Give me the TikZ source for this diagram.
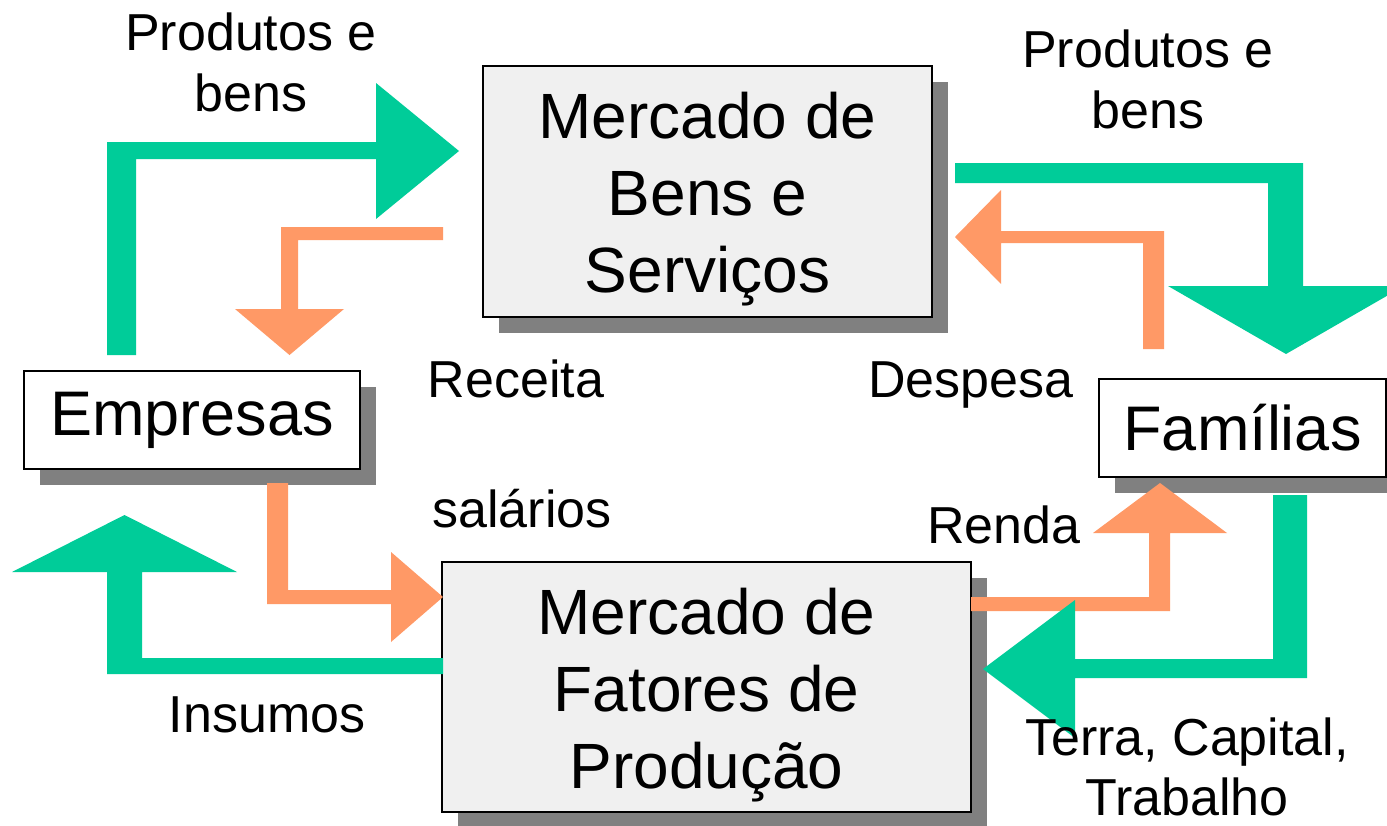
\documentclass[tikz,border=0pt]{standalone}
\usepackage{fontspec}
\setmainfont{Liberation Sans}
\usetikzlibrary{shadows}
\definecolor{flowgreen}{RGB}{0,204,153}
\definecolor{floworange}{RGB}{255,153,102}
\definecolor{shadowgray}{RGB}{128,128,128}
\definecolor{boxfill}{RGB}{240,240,240}
\newcommand{\toppad}{\rule{0pt}{31pt}}
\tikzset{
  shadowed/.style={general shadow={fill=shadowgray, shadow xshift=8pt, shadow yshift=-8pt}},
  bigbox/.style={draw=black, line width=1pt, fill=boxfill, shadowed, align=center,
    font=\fontsize{32}{38.5}\selectfont, inner sep=0pt},
  smallbox/.style={draw=black, line width=1pt, fill=white, shadowed,
    font=\fontsize{31.5}{38}\selectfont, inner sep=0pt},
  lbl/.style={anchor=base, inner sep=0pt, font=\fontsize{26}{30}\selectfont},
  greenarrow/.style={fill=flowgreen},
  orangearrow/.style={fill=floworange}
}
\begin{document}
\begin{tikzpicture}[x=0.5pt,y=-0.5pt]
\useasboundingbox (0,0) rectangle (1387,825);
\fill[white] (0,0) rectangle (1387,825);

% boxes
\node[bigbox, minimum width=224.5pt, minimum height=125.5pt] (mbs) at (707.5,191.5)
  {\toppad Mercado de\\Bens e\\Serviços};
\node[bigbox, minimum width=264.5pt, minimum height=125pt] (mfp) at (706.5,687)
  {\toppad Mercado de\\Fatores de\\Produção};
\node[smallbox, minimum width=168pt, minimum height=49pt] (emp) at (192,420) {Empresas};
\node[smallbox, minimum width=143.5pt, minimum height=49pt] (fam) at (1242.5,428) {Famílias};

% arrows
\fill[greenarrow] (107,355) -- (107,142) -- (376,142) -- (376,83) -- (459,151) -- (376,219)
  -- (376,159) -- (136,159) -- (136,355) -- cycle;
\fill[orangearrow] (443,227) -- (281,227) -- (281,309) -- (235,309) -- (289.5,355) -- (344,309)
  -- (298,309) -- (298,240) -- (443,240) -- cycle;
\fill[greenarrow] (955,163) -- (1303,163) -- (1303,286) -- (1404,286) -- (1286,354) -- (1168,286)
  -- (1268,286) -- (1268,183) -- (955,183) -- cycle;
\fill[orangearrow] (1164,349) -- (1164,231) -- (1001,231) -- (1001,190) -- (955,237) -- (1001,284)
  -- (1001,243) -- (1143,243) -- (1143,349) -- cycle;
\fill[greenarrow] (443,658) -- (142,658) -- (142,572) -- (237,572) -- (124.5,515) -- (12,572)
  -- (107,572) -- (107,674) -- (443,674) -- cycle;
\fill[orangearrow] (267,483) -- (288,483) -- (288,590) -- (391,590) -- (391,552) -- (443,597)
  -- (391,642) -- (391,604) -- (267,604) -- cycle;
\fill[orangearrow] (971,597) -- (1149,597) -- (1149,533) -- (1093,533) -- (1160,483) -- (1227,533)
  -- (1170,533) -- (1170,611) -- (971,611) -- cycle;
\fill[greenarrow] (1273,495) -- (1307,495) -- (1307,678) -- (1075,678) -- (1075,738) -- (983,669)
  -- (1075,600) -- (1075,659) -- (1273,659) -- cycle;

% labels
\node[lbl] (pb1a) at (251,50) {Produtos e};
\node[lbl] (pb1b) at (251,111) {bens};
\node[lbl] (pb2a) at (1148,67) {Produtos e};
\node[lbl] (pb2b) at (1148,128) {bens};
\node[lbl] (rec) at (516,397) {Receita};
\node[lbl] (des) at (971,397) {Despesa};
\node[lbl] (sal) at (522,527) {salários};
\node[lbl] (ren) at (1004,543) {Renda};
\node[lbl] (ins) at (267,732) {Insumos};
\node[lbl] (tct1) at (1187,755) {Terra, Capital,};
\node[lbl] (tct2) at (1187,815) {Trabalho};
\end{tikzpicture}
\end{document}
